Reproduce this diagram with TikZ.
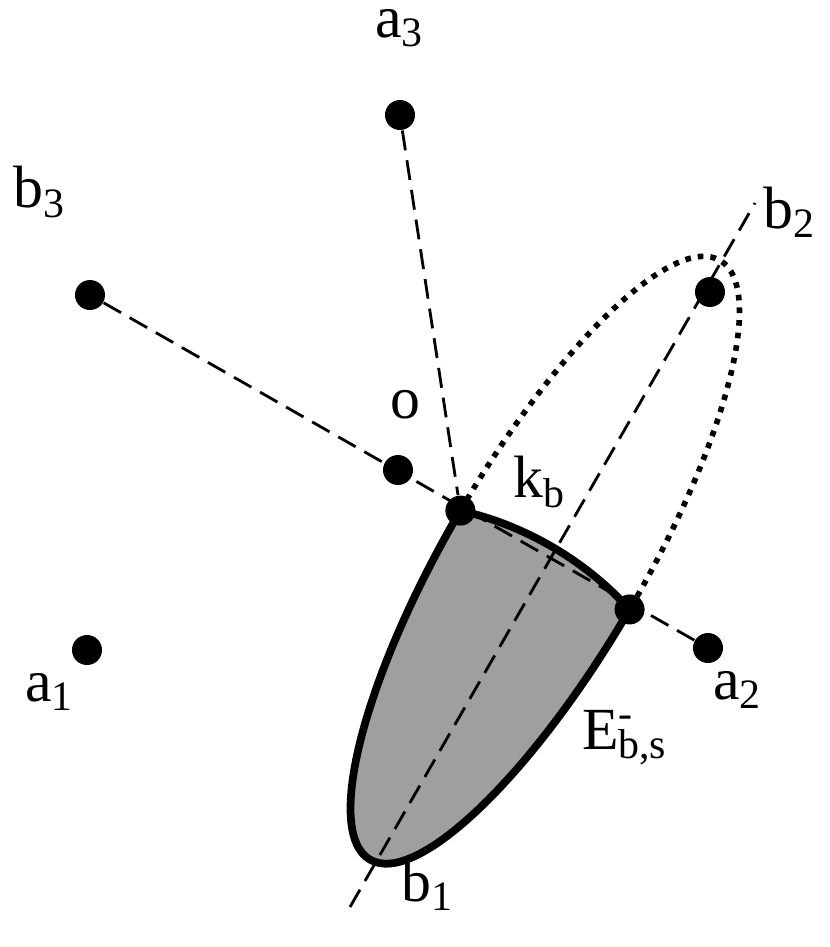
\documentclass[tikz,border=0pt]{standalone}
\usepackage{fontspec}
\setmainfont{Liberation Serif}
\begin{document}
\begin{tikzpicture}[x=0.01cm,y=-0.01cm,
  dot/.style={circle,fill=black,inner sep=0pt,minimum size=0.3cm},
  lab/.style={font=\fontsize{17}{20}\selectfont,inner sep=0pt},
  dsh/.style={dashed,line width=0.8pt,dash pattern=on 0.2cm off 0.1cm}]
\useasboundingbox (0,0) rectangle (830,947);
\node[dot] (a3) at (400,115) {};
\node[dot] (b3) at (90,295) {};
\node[dot] (b2) at (710,292) {};
\node[dot] (o) at (398,470) {};
\node[dot] (a1) at (87,650) {};
\node[dot] (a2) at (708,648) {};
\node[dot] (b1) at (398,825) {};
\coordinate (top) at (755,203);
\coordinate (bot) at (350,907);
% ellipse
\begin{scope}[shift={(545,560)},rotate=59.7]
\fill[gray!75] (0,-98) arc[start angle=-90,end angle=-270,x radius=347,y radius=98]
  .. controls (20,35) and (20,-35) .. (0,-98) -- cycle;
\draw[line width=2.2pt,line join=round] (0,-98) arc[start angle=-90,end angle=-270,x radius=347,y radius=98]
  .. controls (20,35) and (20,-35) .. (0,-98);
\draw[line width=1.6pt,dotted] (0,-98) arc[start angle=-90,end angle=90,x radius=347,y radius=98];
\coordinate (kb) at (0,-98);
\coordinate (E) at (0,98);
\end{scope}
\node[dot] (k) at (kb) {};
\node[dot] (e) at (E) {};
\draw[dsh] (a3) -- (k);
\draw[dsh] (b3) -- (a2);
\draw[dsh] (bot) -- (top);
\node[lab] at (400,28) {a\textsubscript{3}};
\node[lab] at (40,192) {b\textsubscript{3}};
\node[lab] at (790,212) {b\textsubscript{2}};
\node[lab] at (405,405) {o};
\node[lab] at (540,482) {k\textsubscript{b}};
\node[lab] at (50,692) {a\textsubscript{1}};
\node[lab] at (738,690) {a\textsubscript{2}};
\node[lab] at (625,738) {E\rlap{\textsuperscript{-}}\textsubscript{b,s}};
\node[lab] at (428,885) {b\textsubscript{1}};
\end{tikzpicture}
\end{document}
